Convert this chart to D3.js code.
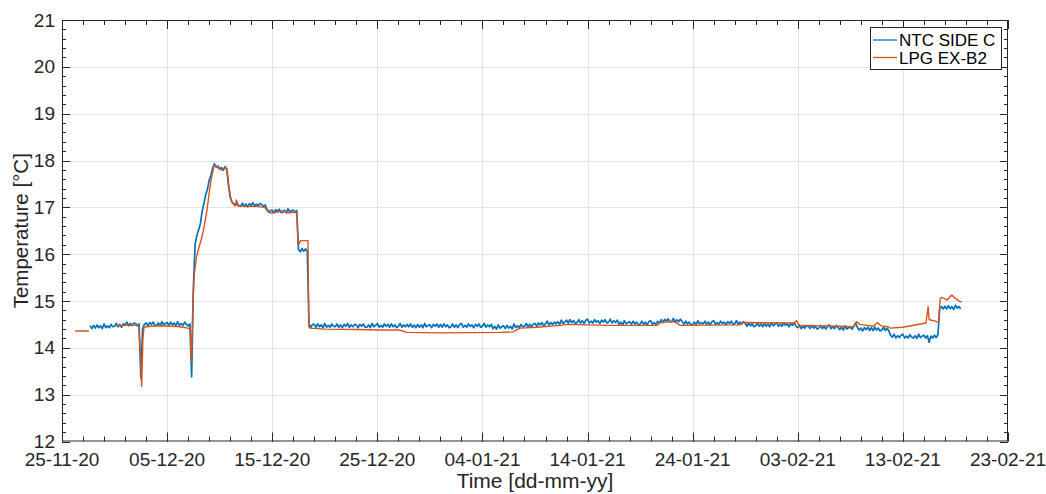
<!DOCTYPE html>
<html>
<head>
<meta charset="utf-8">
<script src="https://cdn.jsdelivr.net/npm/d3@7"></script>
<style>
  html, body { margin: 0; padding: 0; background: #fff; }
  svg { display: block; font-family: "Liberation Sans", Arial, Helvetica, sans-serif; }
</style>
</head>
<body>
<svg id="chart" width="1046" height="494"></svg>
<script>
// ---- data ---------------------------------------------------------------
// Reference origin for the LPG day offsets (UTC)
const originDate = "2020-11-25";

// X axis tick labels (every 10 days)
const xTickLabels = ["25-11-20", "05-12-20", "15-12-20", "25-12-20", "04-01-21",
                     "14-01-21", "24-01-21", "03-02-21", "13-02-21", "23-02-21"];
// Y axis ticks
const yTickValues = [12, 13, 14, 15, 16, 17, 18, 19, 20, 21];

// NTC SIDE C: one reading every 4 hours from 27-11-20 16:00 (six per day)
const ntcStart = "2020-11-27T16:00";
const ntcStepHours = 4;
const ntcTemp = [
  14.47, 14.41,
  14.48, 14.42, 14.49, 14.43, 14.47, 14.41,   // 28-11
  14.51, 14.43, 14.47, 14.43, 14.50, 14.45,   // 29-11
  14.46, 14.52, 14.45, 14.50, 14.44, 14.51,   // 30-11
  14.49, 14.55, 14.47, 14.52, 14.48, 14.53,   // 01-12
  14.52, 14.47, 14.51, 13.36, 14.40, 14.50,   // 02-12
  14.53, 14.47, 14.54, 14.50, 14.55, 14.48,   // 03-12
  14.48, 14.53, 14.47, 14.56, 14.49, 14.52,   // 04-12
  14.54, 14.48, 14.55, 14.49, 14.53, 14.47,   // 05-12
  14.56, 14.48, 14.52, 14.48, 14.55, 14.50,   // 06-12
  14.47, 14.51, 13.38, 15.30, 16.22, 16.40,   // 07-12
  16.52, 16.65, 16.92, 17.08, 17.27, 17.38,   // 08-12
  17.58, 17.68, 17.84, 17.93, 17.86, 17.88,   // 09-12
  17.82, 17.85, 17.79, 17.87, 17.82, 17.48,   // 10-12
  17.22, 17.11, 17.08, 17.04, 17.09, 17.03,   // 11-12
  17.03, 17.09, 17.02, 17.07, 17.01, 17.08,   // 12-12
  17.04, 17.10, 17.02, 17.07, 17.03, 17.08,   // 13-12
  17.06, 17.02, 17.05, 16.96, 16.90, 16.93,   // 14-12
  16.94, 16.88, 16.95, 16.91, 16.96, 16.89,   // 15-12
  16.89, 16.94, 16.88, 16.97, 16.90, 16.93,   // 16-12
  16.94, 16.90, 16.93, 16.10, 16.05, 16.12,   // 17-12
  16.06, 16.11, 16.07, 14.50, 14.44, 14.50,   // 18-12
  14.50, 14.44, 14.51, 14.45, 14.49, 14.43,   // 19-12
  14.52, 14.44, 14.48, 14.44, 14.51, 14.46,   // 20-12
  14.45, 14.51, 14.44, 14.49, 14.43, 14.50,   // 21-12
  14.46, 14.52, 14.44, 14.49, 14.45, 14.50,   // 22-12
  14.49, 14.43, 14.50, 14.46, 14.51, 14.44,   // 23-12
  14.44, 14.49, 14.43, 14.52, 14.45, 14.48,   // 24-12
  14.52, 14.44, 14.48, 14.44, 14.51, 14.46,   // 25-12
  14.50, 14.44, 14.51, 14.45, 14.49, 14.43,   // 26-12
  14.46, 14.52, 14.44, 14.49, 14.45, 14.50,   // 27-12
  14.45, 14.51, 14.44, 14.49, 14.43, 14.50,   // 28-12
  14.44, 14.49, 14.43, 14.52, 14.45, 14.48,   // 29-12
  14.49, 14.43, 14.50, 14.46, 14.51, 14.44,   // 30-12
  14.50, 14.44, 14.51, 14.45, 14.49, 14.43,   // 31-12
  14.45, 14.51, 14.44, 14.49, 14.43, 14.50,   // 01-01
  14.52, 14.44, 14.48, 14.44, 14.51, 14.46,   // 02-01
  14.49, 14.43, 14.50, 14.46, 14.51, 14.44,   // 03-01
  14.46, 14.52, 14.44, 14.49, 14.45, 14.50,   // 04-01
  14.41, 14.46, 14.40, 14.49, 14.42, 14.45,   // 05-01
  14.47, 14.41, 14.48, 14.42, 14.46, 14.40,   // 06-01
  14.51, 14.43, 14.47, 14.43, 14.50, 14.45,   // 07-01
  14.46, 14.52, 14.45, 14.50, 14.44, 14.51,   // 08-01
  14.52, 14.46, 14.53, 14.49, 14.54, 14.47,   // 09-01
  14.51, 14.57, 14.49, 14.54, 14.50, 14.55,   // 10-01
  14.51, 14.56, 14.50, 14.59, 14.52, 14.55,   // 11-01
  14.59, 14.53, 14.60, 14.54, 14.58, 14.52,   // 12-01
  14.54, 14.60, 14.53, 14.58, 14.52, 14.59,   // 13-01
  14.61, 14.53, 14.57, 14.53, 14.60, 14.55,   // 14-01
  14.58, 14.52, 14.59, 14.55, 14.60, 14.53,   // 15-01
  14.55, 14.61, 14.53, 14.58, 14.54, 14.59,   // 16-01
  14.50, 14.55, 14.49, 14.58, 14.51, 14.54,   // 17-01
  14.56, 14.50, 14.57, 14.51, 14.55, 14.49,   // 18-01
  14.51, 14.57, 14.50, 14.55, 14.49, 14.56,   // 19-01
  14.58, 14.50, 14.54, 14.50, 14.57, 14.52,   // 20-01
  14.60, 14.54, 14.61, 14.57, 14.62, 14.55,   // 21-01
  14.57, 14.63, 14.55, 14.60, 14.56, 14.61,   // 22-01
  14.56, 14.50, 14.57, 14.51, 14.55, 14.49,   // 23-01
  14.50, 14.55, 14.49, 14.58, 14.51, 14.54,   // 24-01
  14.51, 14.57, 14.50, 14.55, 14.49, 14.56,   // 25-01
  14.58, 14.50, 14.54, 14.50, 14.57, 14.52,   // 26-01
  14.55, 14.49, 14.56, 14.52, 14.57, 14.50,   // 27-01
  14.52, 14.58, 14.50, 14.55, 14.51, 14.56,   // 28-01
  14.52, 14.46, 14.53, 14.47, 14.51, 14.45,   // 29-01
  14.47, 14.53, 14.46, 14.51, 14.45, 14.52,   // 30-01
  14.46, 14.51, 14.45, 14.54, 14.47, 14.50,   // 31-01
  14.54, 14.46, 14.50, 14.46, 14.53, 14.48,   // 01-02
  14.51, 14.45, 14.52, 14.48, 14.53, 14.46,   // 02-02
  14.43, 14.49, 14.41, 14.46, 14.42, 14.47,   // 03-02
  14.47, 14.41, 14.48, 14.42, 14.46, 14.40,   // 04-02
  14.42, 14.48, 14.41, 14.46, 14.40, 14.47,   // 05-02
  14.49, 14.41, 14.45, 14.41, 14.48, 14.43,   // 06-02
  14.39, 14.44, 14.38, 14.47, 14.40, 14.43,   // 07-02
  14.44, 14.40, 14.46, 14.53, 14.44, 14.38,   // 08-02
  14.42, 14.36, 14.43, 14.39, 14.44, 14.37,   // 09-02
  14.43, 14.37, 14.44, 14.38, 14.42, 14.36,   // 10-02
  14.38, 14.44, 14.37, 14.42, 14.36, 14.26,   // 11-02
  14.23, 14.29, 14.21, 14.26, 14.22, 14.27,   // 12-02
  14.29, 14.21, 14.25, 14.21, 14.28, 14.23,   // 13-02
  14.21, 14.26, 14.20, 14.29, 14.22, 14.25,   // 14-02
  14.27, 14.21, 14.26, 14.12, 14.25, 14.21,   // 15-02
  14.27, 14.22, 14.28, 14.84, 14.88, 14.83,   // 16-02
  14.89, 14.83, 14.90, 14.84, 14.88, 14.82,   // 17-02
  14.91, 14.85, 14.88, 14.83                  // 18-02
];

// LPG EX-B2: irregular samples (day offset from origin, temperature); null marks a logging gap
const lpgDays = [
  1.25, 2.55, 2.6, 5.25, 6.0, 7.0, 7.3, 7.4, 7.58, 7.7, 7.8, 8.4, 9.5, 10.5, 11.2, 11.8,
  12.2, 12.33, 12.45, 12.6, 12.8, 13.0, 13.3, 13.55, 13.8, 14.0, 14.2, 14.4, 14.5, 14.7,
  15.0, 15.3, 15.55, 15.7, 15.85, 16.0, 16.2, 16.45, 16.6, 16.75, 17.5, 18.5, 19.3, 19.5,
  19.8, 20.5, 21.0, 21.5, 22.2, 22.35, 22.45, 22.55, 22.7, 23.4, 23.48, 23.6, 25, 28,
  30.5, 32.1, 32.8, 36.0, 41.7, 42.9, 43.6, 45.2, 47.4, 48.0, 49.9, 51.8, 56.6, 56.9,
  58.2, 58.5, 58.8, 64.5, 64.8, 69.6, 69.9, 70.15, 70.5, 74.0, 75.3, 75.6, 75.9, 77.2,
  77.6, 77.9, 78.6, 78.8, 80.0, 82.2, 82.4, 82.5, 82.9, 83.4, 83.55, 83.7, 84.2, 84.65,
  84.96, 85.4, 85.6
];
const lpgTemp = [
  14.36, 14.36, null, 14.47, 14.48, 14.48, 14.47, 14.10, 13.18, 14.20, 14.44, 14.46, 14.47, 14.46, 14.45, 14.43,
  14.40, 13.70, 15.00, 15.60, 15.95, 16.12, 16.35, 16.62, 16.95, 17.30, 17.60, 17.82, 17.90, 17.86,
  17.82, 17.79, 17.85, 17.82, 17.50, 17.25, 17.10, 17.03, 17.16, 17.03, 17.02, 17.02, 17.00, 16.93,
  16.88, 16.90, 16.93, 16.88, 16.90, 16.85, 16.20, 16.22, 16.29, 16.29, 14.45, 14.42, 14.40, 14.39,
  14.38, 14.38, 14.33, 14.32, 14.33, 14.34, 14.42, 14.44, 14.48, 14.50, 14.49, 14.48, 14.48, 14.54,
  14.56, 14.53, 14.48, 14.49, 14.54, 14.53, 14.58, 14.45, 14.48, 14.46, 14.45, 14.56, 14.50, 14.46,
  14.54, 14.47, 14.45, 14.42, 14.44, 14.53, 14.88, 14.60, 14.58, 14.55, 15.05, 15.08, 15.02, 15.13,
  15.06, 14.99, 14.98
];

const seriesNames = ["NTC SIDE C", "LPG EX-B2"];
const seriesColors = ["#0072BD", "#D95319"];

// ---- layout -------------------------------------------------------------
const plot = { left: 62, right: 1008, top: 20, bottom: 441.5 };
const axisColor = "#262626";
const gridColor = "#e3e3e3";

const parseLabel = d3.utcParse("%d-%m-%y");
const origin = d3.utcParse("%Y-%m-%d")(originDate);
const ntcOrigin = d3.utcParse("%Y-%m-%dT%H:%M")(ntcStart);
const dayToDate = d => new Date(origin.getTime() + d * 864e5);

const xTicks = xTickLabels.map(parseLabel);
const x = d3.scaleUtc()
  .domain([xTicks[0], xTicks[xTicks.length - 1]])
  .range([plot.left, plot.right]);
const y = d3.scaleLinear()
  .domain([yTickValues[0], yTickValues[yTickValues.length - 1]])
  .range([plot.bottom, plot.top]);

const svg = d3.select("#chart");

// grid
const grid = svg.append("g");
grid.selectAll("line.gx").data(xTicks.slice(1, -1)).join("line")
  .attr("x1", d => Math.round(x(d)) + 0.5).attr("x2", d => Math.round(x(d)) + 0.5)
  .attr("y1", plot.top).attr("y2", plot.bottom)
  .attr("stroke", gridColor).attr("stroke-width", 1);
grid.selectAll("line.gy").data(yTickValues.slice(1, -1)).join("line")
  .attr("y1", d => Math.round(y(d)) + 0.5).attr("y2", d => Math.round(y(d)) + 0.5)
  .attr("x1", plot.left).attr("x2", plot.right)
  .attr("stroke", gridColor).attr("stroke-width", 1);

// data lines
svg.append("clipPath").attr("id", "clip").append("rect")
  .attr("x", plot.left).attr("y", plot.top)
  .attr("width", plot.right - plot.left).attr("height", plot.bottom - plot.top);

const ntcData = ntcTemp.map((v, i) => ({ t: d3.utcHour.offset(ntcOrigin, i * ntcStepHours), v }));
const lpgData = lpgDays.map((d, i) => ({ t: dayToDate(d), v: lpgTemp[i] }));

const line = d3.line()
  .defined(d => d.v !== null)
  .x(d => x(d.t)).y(d => y(d.v));

const lines = svg.append("g").attr("clip-path", "url(#clip)");
lines.append("path").datum(ntcData)
  .attr("d", line).attr("fill", "none")
  .attr("stroke", seriesColors[0]).attr("stroke-width", 1.7)
  .attr("stroke-linejoin", "round");
lines.append("path").datum(lpgData)
  .attr("d", line).attr("fill", "none")
  .attr("stroke", seriesColors[1]).attr("stroke-width", 1.4)
  .attr("stroke-linejoin", "round");

// axes (ticks pointing inward, on all four sides)
const minorX = d3.range(0, 91, 2).map(dayToDate);
const minorY = d3.range(12, 21.001, 0.2);
const majorLen = 9, minorLen = 5;

const axisG = svg.append("g").attr("stroke", axisColor).attr("stroke-width", 1);
function xTick(d, len) {
  const px = Math.round(x(d)) + 0.5;
  axisG.append("line").attr("x1", px).attr("x2", px)
    .attr("y1", plot.bottom).attr("y2", plot.bottom - len);
  axisG.append("line").attr("x1", px).attr("x2", px)
    .attr("y1", plot.top).attr("y2", plot.top + len);
}
function yTick(d, len) {
  const py = Math.round(y(d)) + 0.5;
  axisG.append("line").attr("y1", py).attr("y2", py)
    .attr("x1", plot.left).attr("x2", plot.left + len);
  axisG.append("line").attr("y1", py).attr("y2", py)
    .attr("x1", plot.right).attr("x2", plot.right - len);
}
minorX.forEach(d => xTick(d, minorLen));
xTicks.forEach(d => xTick(d, majorLen));
minorY.forEach(d => yTick(d, minorLen - 1));
yTickValues.forEach(d => yTick(d, majorLen - 1));

axisG.append("rect")
  .attr("x", plot.left + 0.5).attr("y", plot.top + 0.5)
  .attr("width", plot.right - plot.left - 1).attr("height", plot.bottom - plot.top - 1)
  .attr("fill", "none");

// tick labels
const fmt = d3.utcFormat("%d-%m-%y");
svg.append("g").selectAll("text").data(xTicks).join("text")
  .attr("x", d => x(d)).attr("y", plot.bottom + 24)
  .attr("text-anchor", "middle").attr("font-size", 19).attr("fill", axisColor)
  .text(d => fmt(d));
svg.append("g").selectAll("text").data(yTickValues).join("text")
  .attr("x", plot.left - 7).attr("y", d => y(d) + 6.5)
  .attr("text-anchor", "end").attr("font-size", 19).attr("fill", axisColor)
  .text(d => d);

// axis titles
svg.append("text")
  .attr("x", (plot.left + plot.right) / 2).attr("y", 488)
  .attr("text-anchor", "middle").attr("font-size", 21).attr("fill", axisColor)
  .text("Time [dd-mm-yy]");
svg.append("text")
  .attr("transform", `translate(28, ${(plot.top + plot.bottom) / 2}) rotate(-90)`)
  .attr("text-anchor", "middle").attr("font-size", 20.5).attr("fill", axisColor)
  .text("Temperature [°C]");

// legend
const lg = svg.append("g");
lg.append("rect").attr("x", 870.5).attr("y", 27.5).attr("width", 131).attr("height", 42)
  .attr("fill", "#fff").attr("stroke", axisColor).attr("stroke-width", 1);
seriesNames.forEach((name, i) => {
  const ly = 40 + i * 17.5;
  lg.append("line").attr("x1", 873).attr("x2", 897).attr("y1", ly).attr("y2", ly)
    .attr("stroke", seriesColors[i]).attr("stroke-width", 1.3);
  lg.append("text").attr("x", 899).attr("y", ly + 6)
    .attr("font-size", 17).attr("fill", "#000").text(name);
});
</script>
</body>
</html>
